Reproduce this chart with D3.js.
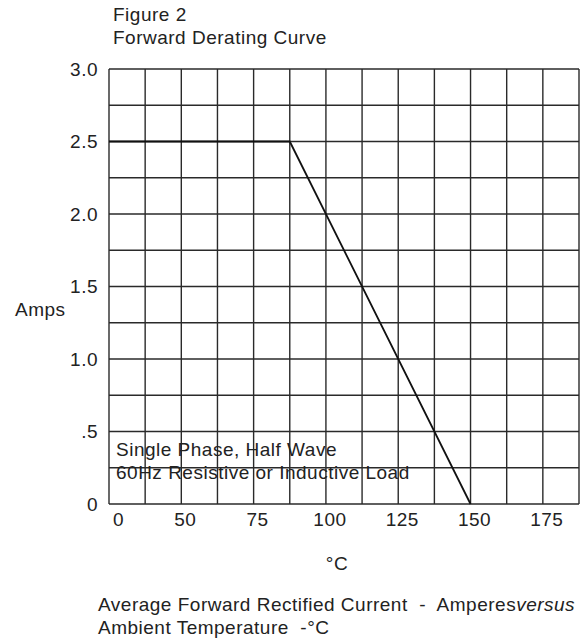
<!DOCTYPE html>
<html>
<head>
<meta charset="utf-8">
<script src="https://cdn.jsdelivr.net/npm/d3@7"></script>
<style>
  body { margin: 0; background: #fff; }
  svg { display: block; font-family: "Liberation Sans", Arial, sans-serif; }
  svg text { white-space: pre; letter-spacing: 0.5px; }
</style>
</head>
<body>
<svg id="chart"></svg>
<script>
// Figure 2: forward derating curve, amps vs ambient temperature

// curve vertices (°C, amps)
const tempC = [25, 87.5, 150];
const amps = [2.5, 2.5, 0];

// axis ticks as printed on the sheet (the left edge is labelled 0)
const xTickValues = [25, 50, 75, 100, 125, 150, 175];
const xTickLabels = ["0", "50", "75", "100", "125", "150", "175"];
const yTickValues = [0, 0.5, 1.0, 1.5, 2.0, 2.5, 3.0];
const yTickLabels = ["0", ".5", "1.0", "1.5", "2.0", "2.5", "3.0"];

const titleLines = ["Figure 2", "Forward Derating Curve"];
const noteLines = ["Single Phase, Half Wave", "60Hz Resistive or Inductive Load"];

const width = 584, height = 639;
const margin = { top: 69, right: 5, bottom: 135, left: 109 };

const svg = d3.select("#chart")
    .attr("width", width)
    .attr("height", height);

const x = d3.scaleLinear()
    .domain([25, 187.5])
    .range([margin.left, width - margin.right]);

const y = d3.scaleLinear()
    .domain([0, 3])
    .range([height - margin.bottom, margin.top]);

const fontSize = 19;
const ink = "#222";

// grid: 12.5 °C columns, 0.25 A rows
const grid = svg.append("g")
    .attr("stroke", "#2a2a2a")
    .attr("stroke-width", 1.4);

grid.selectAll("line.v")
    .data(d3.range(25, 187.5 + 0.01, 12.5))
    .enter().append("line")
    .attr("class", "v")
    .attr("x1", d => x(d)).attr("x2", d => x(d))
    .attr("y1", y(0)).attr("y2", y(3));

grid.selectAll("line.h")
    .data(d3.range(0, 3.01, 0.25))
    .enter().append("line")
    .attr("class", "h")
    .attr("x1", x(25)).attr("x2", x(187.5))
    .attr("y1", d => y(d)).attr("y2", d => y(d));

// derating curve
const line = d3.line()
    .x((d, i) => x(tempC[i]))
    .y(d => y(d));

svg.append("path")
    .datum(amps)
    .attr("d", line)
    .attr("fill", "none")
    .attr("stroke", "#111")
    .attr("stroke-width", 1.8);

// y tick labels
svg.append("g")
    .selectAll("text")
    .data(yTickValues)
    .enter().append("text")
    .attr("x", margin.left - 11)
    .attr("y", d => y(d) + 6.5)
    .attr("text-anchor", "end")
    .attr("font-size", fontSize)
    .attr("fill", ink)
    .text((d, i) => yTickLabels[i]);

// x tick labels
svg.append("g")
    .selectAll("text")
    .data(xTickValues)
    .enter().append("text")
    .attr("x", d => x(d) + 4)
    .attr("y", y(0) + 22)
    .attr("text-anchor", (d, i) => i === 0 ? "start" : "middle")
    .attr("font-size", fontSize)
    .attr("fill", ink)
    .text((d, i) => xTickLabels[i]);

// title
svg.append("g")
    .selectAll("text")
    .data(titleLines)
    .enter().append("text")
    .attr("x", 113)
    .attr("y", (d, i) => 21 + i * 23)
    .attr("font-size", fontSize)
    .attr("fill", ink)
    .text(d => d);

// note inside the plot
svg.append("g")
    .selectAll("text")
    .data(noteLines)
    .enter().append("text")
    .attr("x", 116)
    .attr("y", (d, i) => 456 + i * 23)
    .attr("font-size", fontSize)
    .attr("fill", ink)
    .text(d => d);

// axis titles
svg.append("text")
    .attr("x", 15)
    .attr("y", 316)
    .attr("font-size", fontSize)
    .attr("fill", ink)
    .text("Amps");

svg.append("text")
    .attr("x", 337)
    .attr("y", 570)
    .attr("text-anchor", "middle")
    .attr("font-size", fontSize)
    .attr("fill", ink)
    .text("°C");

const caption = svg.append("text")
    .attr("x", 98)
    .attr("y", 611)
    .attr("font-size", fontSize)
    .attr("fill", ink);
caption.append("tspan").text("Average Forward Rectified Current  -  Amperes");
caption.append("tspan").attr("font-style", "italic").text("versus");

svg.append("text")
    .attr("x", 98)
    .attr("y", 634)
    .attr("font-size", fontSize)
    .attr("fill", ink)
    .text("Ambient Temperature  -°C");
</script>
</body>
</html>
